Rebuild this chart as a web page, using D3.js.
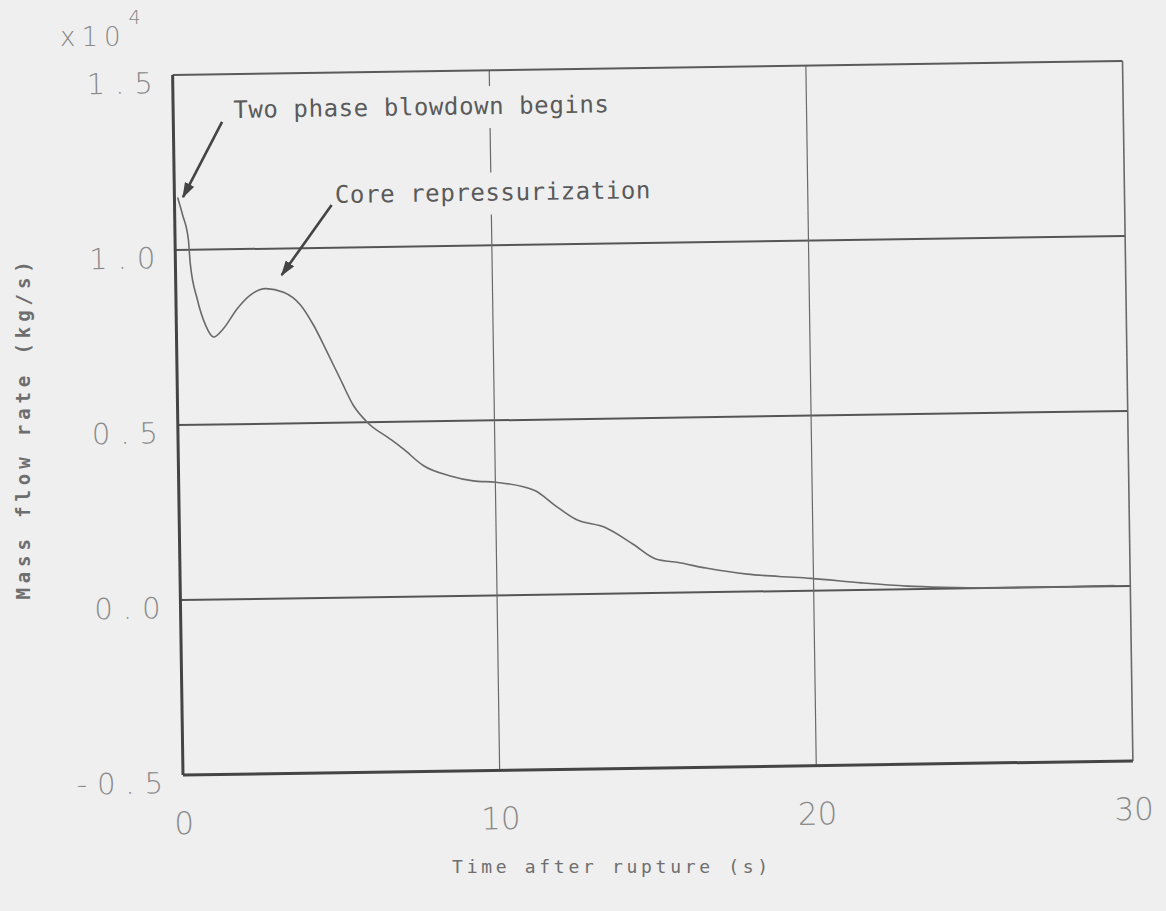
<!DOCTYPE html>
<html>
<head>
<meta charset="utf-8">
<script src="https://cdn.jsdelivr.net/npm/d3@7"></script>
<style>
  body { margin: 0; background: #efefef; }
  svg { display: block; }
  .ylab text { font-family: "DejaVu Sans", sans-serif; font-weight: 300; font-size: 29px; fill: #8a8a8a; letter-spacing: 10px; }
  .xlab text { font-family: "DejaVu Sans", sans-serif; font-weight: 300; font-size: 31px; fill: #8a8a8a; }
  .anno { font-family: "DejaVu Sans Mono", monospace; font-size: 24px; fill: #5a5a5a; letter-spacing: 0.6px; }
  .title { font-family: "DejaVu Sans Mono", monospace; fill: #6e6e6e; }
</style>
</head>
<body>
<div id="chart"></div>
<script>
// time after rupture (s) and mass flow rate (x10^4 kg/s)
var TIMES = [0.1, 0.25, 0.42, 0.47, 0.67, 0.92, 1.17, 1.49, 1.93, 2.36, 2.83, 3.4, 3.93, 4.33, 4.75,
  5.15, 5.55, 5.98, 6.7, 7.11, 7.73, 8.58, 9.3, 10.02, 11.24, 11.88, 12.52, 13.45, 14.31, 15.03,
  15.74, 16.61, 17.91, 18.92, 19.92, 21.51, 22.95, 24.1, 25.8, 27.5, 29.5];
var FLOWS = [1.15, 1.10, 1.03, 0.96, 0.86, 0.785, 0.75, 0.774, 0.83, 0.869, 0.886, 0.875, 0.838, 0.78, 0.702,
  0.625, 0.549, 0.50, 0.451, 0.422, 0.374, 0.343, 0.328, 0.323, 0.298, 0.254, 0.214, 0.189, 0.141, 0.097,
  0.086, 0.069, 0.05, 0.042, 0.035, 0.02, 0.009, 0.004, 0.0, 0.0, 0.002];

var XTICKS = [0, 10, 20, 30];
var YTICKS = [-0.5, 0.0, 0.5, 1.0, 1.5];
var XGRID = [10, 20];
var YGRID = [0.0, 0.5, 1.0];

// annotations: label position and arrow (tail -> head), in data units
var ANNO_TEXT = ['Two phase blowdown begins', 'Core repressurization'];
var ANNO_POS = [[1.9, 1.375], [5.07, 1.128]];
var ARROW_FROM = [[1.54, 1.364], [4.96, 1.122]];
var ARROW_TO = [[0.27, 1.151], [3.35, 0.924]];

var width = 950, height = 700;
var bg = '#efefef';

var svg = d3.select('#chart').append('svg')
  .attr('width', 1166)
  .attr('height', 911);

svg.append('rect').attr('width', 1166).attr('height', 911).attr('fill', bg);

var x = d3.scaleLinear().domain([0, 30]).range([0, width]);
var y = d3.scaleLinear().domain([-0.5, 1.5]).range([height, 0]);

// the scanned page sits a little crooked
var g = svg.append('g')
  .attr('transform', 'translate(183,775) rotate(-0.85) translate(0,' + (-height) + ')');

// grid
g.selectAll('.gy').data(YGRID).enter().append('line')
  .attr('x1', 0).attr('x2', width)
  .attr('y1', function(d) { return y(d); })
  .attr('y2', function(d) { return y(d); })
  .attr('stroke', '#555').attr('stroke-width', 2);

g.selectAll('.gx').data(XGRID).enter().append('line')
  .attr('x1', function(d) { return x(d); })
  .attr('x2', function(d) { return x(d); })
  .attr('y1', 0).attr('y2', height)
  .attr('stroke', '#6a6a6a').attr('stroke-width', 1.2);

// annotation labels blank out the grid behind them
var arrowDefs = svg.append('defs');
arrowDefs.append('marker')
  .attr('id', 'head')
  .attr('viewBox', '0 0 12 8')
  .attr('refX', 11).attr('refY', 4)
  .attr('markerWidth', 6).attr('markerHeight', 4)
  .attr('markerUnits', 'strokeWidth')
  .attr('orient', 'auto')
  .append('path').attr('d', 'M0,0 L12,4 L0,8 z').attr('fill', '#444');

ANNO_TEXT.forEach(function(txt, i) {
  var holder = g.append('g');
  var t = holder.append('text')
    .attr('class', 'anno')
    .attr('x', x(ANNO_POS[i][0]))
    .attr('y', y(ANNO_POS[i][1]))
    .text(txt);
  var bb = t.node().getBBox();
  holder.insert('rect', 'text')
    .attr('x', bb.x - 4).attr('y', bb.y - 6)
    .attr('width', bb.width + 8).attr('height', bb.height + 14)
    .attr('fill', bg);

  g.append('line')
    .attr('x1', x(ARROW_FROM[i][0])).attr('y1', y(ARROW_FROM[i][1]))
    .attr('x2', x(ARROW_TO[i][0])).attr('y2', y(ARROW_TO[i][1]))
    .attr('stroke', '#444').attr('stroke-width', 2.6)
    .attr('marker-end', 'url(#head)');
});

// frame
g.append('line').attr('x1', 0).attr('x2', width).attr('y1', 0).attr('y2', 0)
  .attr('stroke', '#5a5a5a').attr('stroke-width', 2);
g.append('line').attr('x1', width).attr('x2', width).attr('y1', 0).attr('y2', height)
  .attr('stroke', '#6a6a6a').attr('stroke-width', 1.6);
g.append('line').attr('x1', 0).attr('x2', width).attr('y1', height).attr('y2', height)
  .attr('stroke', '#444').attr('stroke-width', 3);
g.append('line').attr('x1', 0).attr('x2', 0).attr('y1', 0).attr('y2', height)
  .attr('stroke', '#444').attr('stroke-width', 3);

// flow curve
var valueline = d3.line()
  .x(function(d, i) { return x(TIMES[i]); })
  .y(function(d) { return y(d); })
  .curve(d3.curveMonotoneX);

g.append('path')
  .datum(FLOWS)
  .attr('d', valueline)
  .attr('fill', 'none')
  .attr('stroke', '#6a6a6a')
  .attr('stroke-width', 1.6);

// axes (labels only)
var yAxis = g.append('g').attr('class', 'ylab')
  .call(d3.axisLeft(y).tickValues(YTICKS).tickSize(0).tickPadding(10)
    .tickFormat(function(d) { return d.toFixed(1); }));
yAxis.select('.domain').remove();
yAxis.selectAll('text').attr('dy', '0.6em');

var xAxis = g.append('g').attr('class', 'xlab')
  .attr('transform', 'translate(0,' + height + ')')
  .call(d3.axisBottom(x).tickValues(XTICKS).tickSize(0).tickPadding(37)
    .tickFormat(d3.format('d')));
xAxis.select('.domain').remove();

// titles
svg.append('text')
  .attr('class', 'title')
  .attr('x', 612).attr('y', 873)
  .attr('text-anchor', 'middle')
  .style('font-size', '18px')
  .style('letter-spacing', '3.7px')
  .text('Time after rupture (s)');

svg.append('text')
  .attr('class', 'title')
  .attr('transform', 'translate(30,428) rotate(-90)')
  .attr('text-anchor', 'middle')
  .style('font-size', '19px')
  .style('letter-spacing', '4.9px')
  .style('font-weight', 'bold')
  .text('Mass flow rate (kg/s)');

// scale factor with its exponent
var mult = svg.append('text')
  .attr('x', 60).attr('y', 46)
  .style('font-family', '"DejaVu Sans", sans-serif')
  .style('font-weight', 300)
  .style('font-size', '26px')
  .style('fill', '#888');
mult.append('tspan').style('letter-spacing', '6px').text('x10');
mult.append('tspan')
  .attr('dx', 2).attr('dy', -22)
  .style('font-size', '19px')
  .text('4');
</script>
</body>
</html>
